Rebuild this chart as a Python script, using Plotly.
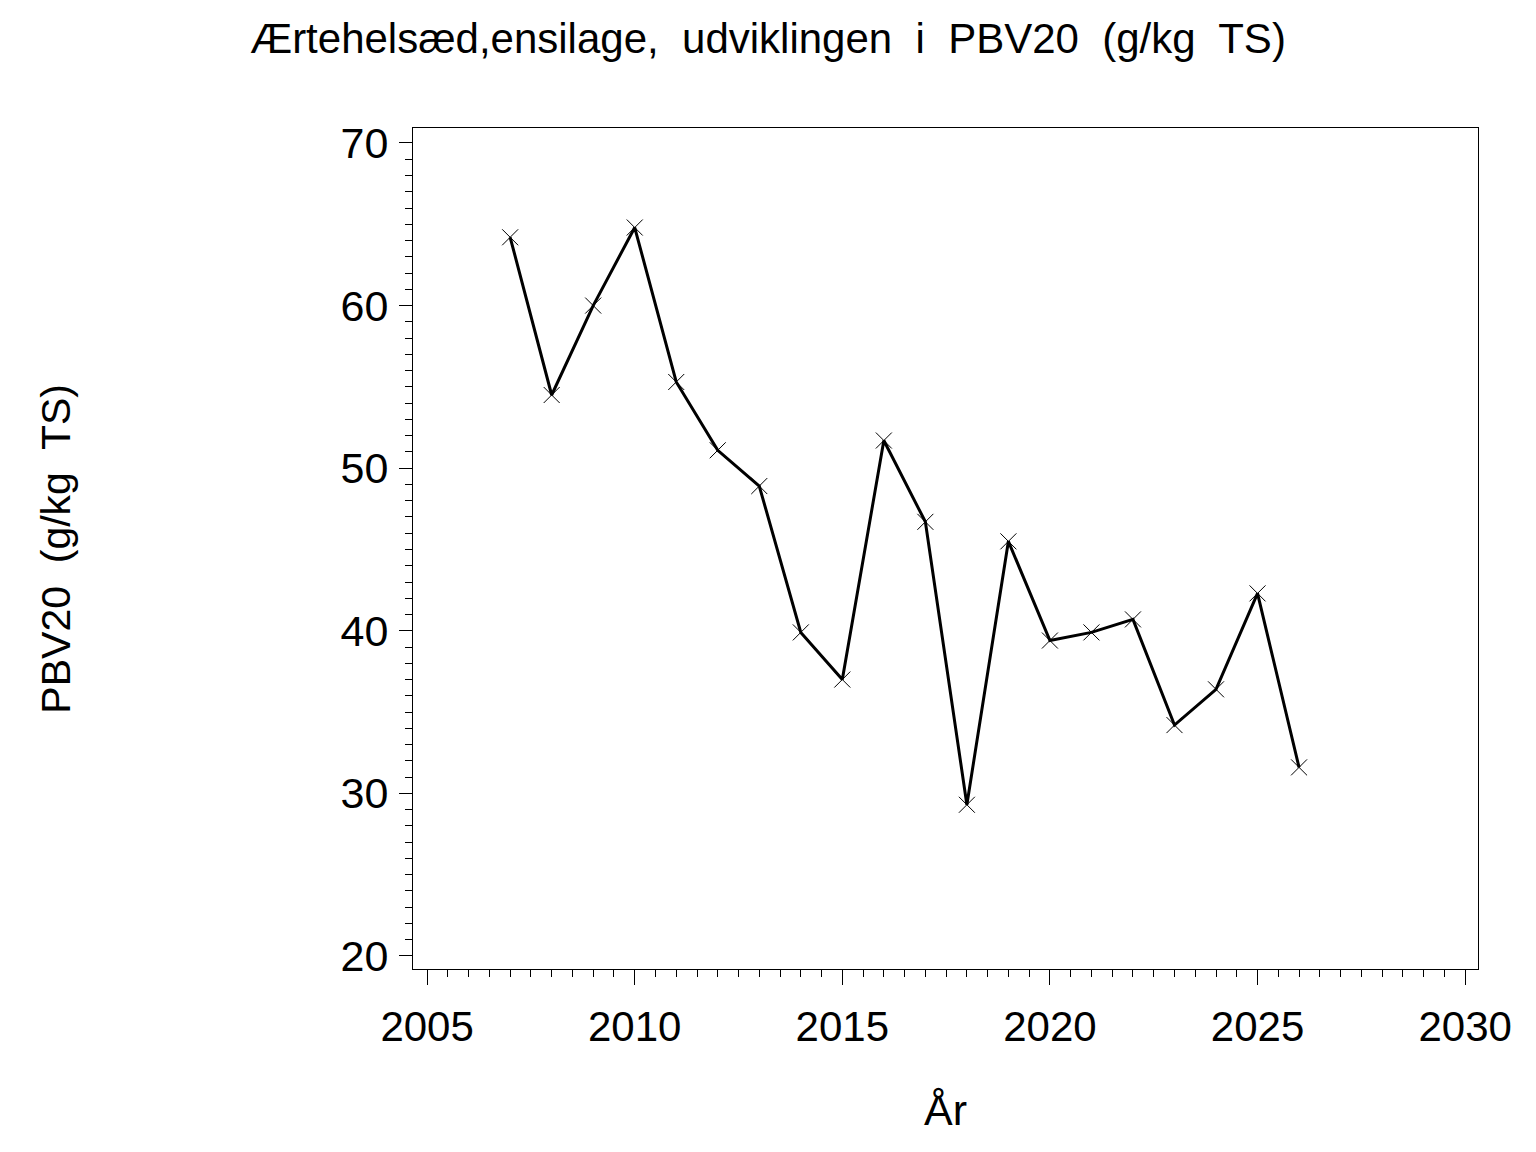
import plotly.graph_objects as go

# PBV20 per year
years = [2007, 2008, 2009, 2010, 2011, 2012, 2013, 2014, 2015, 2016,
         2017, 2018, 2019, 2020, 2021, 2022, 2023, 2024, 2025, 2026]
pbv20 = [64.2, 54.5, 60.0, 64.8, 55.3, 51.1, 48.9, 39.9, 37.0, 51.7,
         46.7, 29.3, 45.5, 39.4, 39.9, 40.7, 34.2, 36.4, 42.3, 31.6]

title = "Ærtehelsæd,ensilage,\u00a0 udviklingen\u00a0 i\u00a0 PBV20\u00a0 (g/kg\u00a0 TS)"
y_title = "PBV20\u00a0 (g/kg\u00a0 TS)"
x_title = "År"

font_family = "Liberation Sans, Arial, sans-serif"

fig = go.Figure()
fig.add_trace(go.Scatter(
    x=years, y=pbv20,
    mode="lines+markers",
    line=dict(color="black", width=3),
    marker=dict(symbol="x-thin-open", size=16, color="black",
                line=dict(color="black", width=1)),
    showlegend=False,
))

# ======= AXES =========
fig.update_xaxes(
    range=[2004.66, 2030.31],
    dtick=5, tick0=2005,
    ticks="outside", ticklen=15, tickwidth=1, tickcolor="black",
    minor=dict(dtick=0.5, ticks="outside", ticklen=7, tickwidth=1, tickcolor="black"),
    showline=True, linecolor="black", linewidth=1, mirror=True,
    showgrid=False, zeroline=False,
    tickfont=dict(size=42, color="black", family=font_family),
    ticklabelstandoff=6,
)
fig.update_yaxes(
    range=[19.2, 70.92],
    dtick=10, tick0=20,
    ticks="outside", ticklen=13, tickwidth=1, tickcolor="black",
    minor=dict(dtick=1, ticks="outside", ticklen=7, tickwidth=1, tickcolor="black"),
    showline=True, linecolor="black", linewidth=1, mirror=True,
    showgrid=False, zeroline=False,
    tickfont=dict(size=43, color="black", family=font_family),
    ticklabelstandoff=2,
)

fig.add_annotation(text=y_title, xref="paper", yref="paper",
                   x=-0.336, y=0.5, xanchor="center", yanchor="middle",
                   textangle=-90, showarrow=False,
                   font=dict(size=41, color="black", family=font_family))
fig.add_annotation(text=x_title, xref="paper", yref="paper",
                   x=0.5, y=-0.168, xanchor="center", yanchor="middle",
                   showarrow=False,
                   font=dict(size=43, color="black", family=font_family))

# page body has an 8px margin, so the figure is 16px smaller than the window
fig.update_layout(
    width=1520, height=1136,
    margin=dict(l=405, r=50, t=120, b=175, autoexpand=False),
    paper_bgcolor="white", plot_bgcolor="white",
    title=dict(text=title, x=0.5, xref="container", xanchor="center",
               y=1 - 30 / 1136, yref="container", yanchor="middle",
               font=dict(size=42, color="black", family=font_family)),
)

fig.write_html("out.html")
